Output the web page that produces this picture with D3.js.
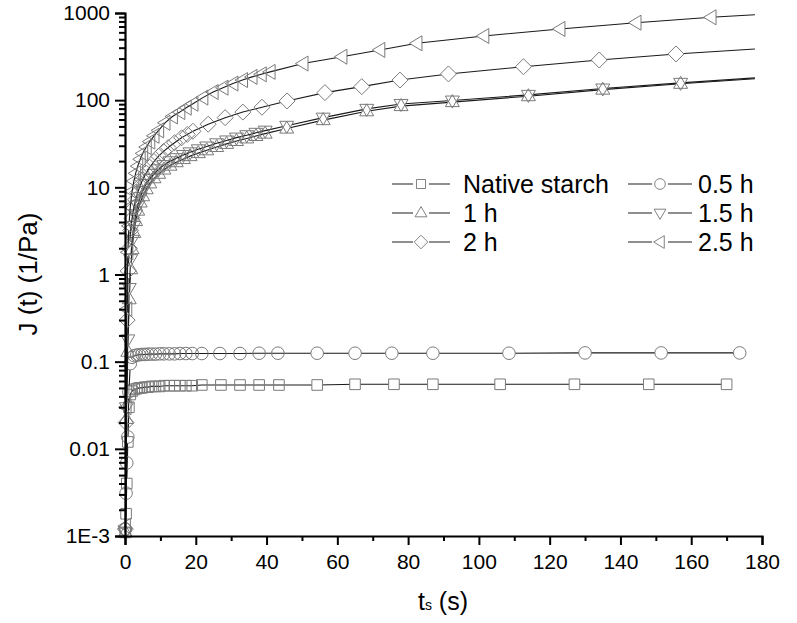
<!DOCTYPE html>
<html>
<head>
<meta charset="utf-8">
<script src="https://cdn.jsdelivr.net/npm/d3@7"></script>
<style>
  body { margin: 0; background: #fff; }
  text { font-family: "Liberation Sans", Arial, sans-serif; fill: #000; }
</style>
</head>
<body>
<div id="chart"></div>
<script>
// creep compliance data
var names = ["Native starch", "0.5 h", "1 h", "1.5 h", "2 h", "2.5 h"];
var shapes = ["square", "circle", "up", "down", "diamond", "left"];

var tNative = [0.1, 0.3, 0.5, 0.8, 1.1, 1.5, 2, 2.6, 3.3, 4, 4.8, 5.6, 6.5, 7.5, 8.6, 9.8, 11, 12.5, 14, 15.5, 17.2, 19, 21.7, 27.1, 32.5, 37.9, 43.5, 54.3, 65, 76, 87, 106, 127, 148, 170];
var jNative = [0.0011, 0.0018, 0.004, 0.012, 0.03, 0.042, 0.046, 0.048, 0.049, 0.05, 0.05, 0.051, 0.051, 0.052, 0.052, 0.052, 0.053, 0.053, 0.053, 0.053, 0.053, 0.053, 0.054, 0.054, 0.054, 0.054, 0.054, 0.054, 0.055, 0.055, 0.055, 0.055, 0.055, 0.055, 0.055];

var t05 = [0.1, 0.3, 0.5, 0.8, 1.1, 1.5, 2, 2.6, 3.3, 4, 4.8, 5.6, 6.5, 7.5, 8.6, 9.8, 11, 12.5, 14, 15.5, 17.2, 19, 21.7, 26.8, 32.5, 37.9, 43.2, 54.3, 65, 75.4, 87, 108.5, 130, 151.5, 173.7];
var j05 = [0.0012, 0.0031, 0.0069, 0.0137, 0.045, 0.095, 0.112, 0.117, 0.119, 0.12, 0.121, 0.121, 0.122, 0.122, 0.122, 0.123, 0.123, 0.123, 0.123, 0.124, 0.124, 0.124, 0.124, 0.124, 0.124, 0.125, 0.125, 0.125, 0.125, 0.125, 0.125, 0.125, 0.126, 0.126, 0.126];

var t1 = [0.1, 0.4, 0.8, 1.2, 1.6, 2, 2.5, 3, 3.6, 4.3, 5, 6, 7, 8.2, 9.5, 11, 12.7, 14.5, 16.5, 18.4, 20.7, 23.1, 25.9, 28.7, 31.5, 34.4, 37, 39.6, 45.7, 56, 68.3, 78, 92.5, 114, 135, 157, 178];
var j1 = [0.0011, 0.022, 0.13, 0.52, 1.15, 1.95, 3.0, 4.1, 5.4, 6.7, 7.9, 9.5, 11.1, 12.7, 14.3, 16, 17.7, 19.4, 21.1, 22.8, 24.7, 26.6, 29, 31.5, 34, 36.4, 38.8, 41.3, 47.2, 59, 74.5, 85.5, 95, 111, 132, 154, 176];

var t15 = [0.1, 0.4, 0.8, 1.2, 1.6, 2, 2.5, 3, 3.6, 4.3, 5, 6, 7, 8.2, 9.5, 11, 12.7, 14.5, 16.5, 18.4, 20.7, 23.1, 25.9, 28.7, 31.5, 34.4, 37, 39.6, 45.7, 56, 68.3, 78, 92.5, 114, 135, 157, 178];
var j15 = [0.0011, 0.03, 0.18, 0.7, 1.5, 2.5, 3.6, 4.9, 6.2, 7.7, 9.1, 10.9, 12.5, 14.3, 16.1, 18, 19.9, 21.6, 23.5, 25.2, 27.3, 29.4, 32, 34.5, 37.2, 39.6, 42.2, 44.7, 50.8, 63, 79.5, 90.5, 99, 115, 136, 158, 180];

var t2 = [0.1, 0.3, 0.6, 0.9, 1.2, 1.6, 2, 2.5, 3, 3.6, 4.3, 5, 6, 7, 8.2, 9.5, 10.9, 12.2, 14, 16, 17.6, 19.2, 23.5, 28.3, 33.3, 38.7, 45.8, 56.5, 66.9, 77.7, 91.4, 112.6, 134, 155.7, 178];
var j2 = [0.0012, 0.02, 0.3, 1.1, 2.0, 3.2, 4.4, 5.8, 7.2, 8.7, 10.5, 12.3, 14.6, 17, 19.8, 22.8, 25.8, 28.6, 32.5, 37, 40.5, 44, 53, 63, 73, 83, 98, 122, 143, 170, 200, 242, 289, 339, 386];

var t25 = [0.1, 0.3, 0.5, 0.8, 1.1, 1.5, 2, 2.5, 3, 3.6, 4.3, 5, 6, 7, 8.2, 9.5, 11.3, 13.4, 15.5, 17.3, 19.2, 22, 24.9, 27.7, 30.5, 33.2, 35.9, 38.5, 41, 50.3, 61.3, 72, 82.5, 101.4, 122.9, 144.4, 165.6, 178];
var j25 = [0.0013, 0.03, 0.4, 1.8, 3.6, 6, 9, 11.8, 14.5, 17.5, 21, 24.5, 29, 33.5, 39, 45, 55, 65, 73, 82, 91, 107, 124, 139, 155, 170, 185, 198, 211, 263, 315, 377, 449, 545, 656, 774, 893, 956];

// last point of these curves has no marker
var lastUnmarked = [false, false, true, true, true, true];

var xTicks = [0, 20, 40, 60, 80, 100, 120, 140, 160, 180];
var yTicks = [1e-3, 0.01, 0.1, 1, 10, 100, 1000];
var yTickLabels = ["1E-3", "0.01", "0.1", "1", "10", "100", "1000"];

var seriesT = [tNative, t05, t1, t15, t2, t25];
var seriesJ = [jNative, j05, j1, j15, j2, j25];

var W = 797, H = 623;
var svg = d3.select("#chart").append("svg")
  .attr("width", W).attr("height", H);

var x = d3.scaleLinear().domain([0, 180]).range([125, 762]);
var y = d3.scaleLog().domain([1e-3, 1000]).range([536, 13]);

// marker outlines
function shapePath(kind) {
  var p = d3.path();
  if (kind == "square") { p.rect(-5.3, -5.3, 10.6, 10.6); }
  else if (kind == "circle") { p.arc(0, 0, 6.3, 0, 2 * Math.PI); }
  else if (kind == "up") { p.moveTo(0, -7.5); p.lineTo(7, 4.5); p.lineTo(-7, 4.5); p.closePath(); }
  else if (kind == "down") { p.moveTo(0, 7.5); p.lineTo(7, -4.5); p.lineTo(-7, -4.5); p.closePath(); }
  else if (kind == "diamond") { p.moveTo(0, -8); p.lineTo(8, 0); p.lineTo(0, 8); p.lineTo(-8, 0); p.closePath(); }
  else if (kind == "left") { p.moveTo(-7.5, 0); p.lineTo(5, -7.5); p.lineTo(5, 7.5); p.closePath(); }
  return p.toString();
}

var line = d3.line().x(d => x(d.t)).y(d => y(d.j));
var defs = svg.append("defs");
var plot = svg.append("g");

seriesT.forEach(function (ts, k) {
  var pts = ts.map((tt, i) => ({ t: tt, j: seriesJ[k][i] }));
  var marked = lastUnmarked[k] ? pts.slice(0, -1) : pts;

  // gap in the line around markers that stand apart
  var gaps = marked.filter(function (d, i) {
    if (i == 0) return false;
    var a = marked[i - 1];
    return Math.hypot(x(d.t) - x(a.t), y(d.j) - y(a.j)) > 22;
  });
  var m = defs.append("mask").attr("id", "gap" + k).attr("maskUnits", "userSpaceOnUse")
    .attr("x", 0).attr("y", 0).attr("width", W).attr("height", H);
  m.append("rect").attr("width", W).attr("height", H).attr("fill", "#fff");
  m.selectAll("path").data(gaps).join("path")
    .attr("d", shapePath(shapes[k]))
    .attr("transform", d => "translate(" + x(d.t) + "," + y(d.j) + ")")
    .attr("fill", "#000");

  plot.append("path")
    .datum(pts)
    .attr("d", line)
    .attr("fill", "none")
    .attr("stroke", "#1a1a1a")
    .attr("stroke-width", 1.1)
    .attr("mask", "url(#gap" + k + ")");

  plot.append("g").selectAll("path").data(marked).join("path")
    .attr("d", shapePath(shapes[k]))
    .attr("transform", d => "translate(" + x(d.t) + "," + y(d.j) + ")")
    .attr("fill", "none")
    .attr("stroke", "#7a7a7a")
    .attr("stroke-width", 1);
});

// axes
var xAxis = svg.append("g").attr("transform", "translate(0,536)")
  .call(d3.axisBottom(x).tickValues(xTicks).tickSize(9).tickPadding(4).tickFormat(d3.format("d")));
svg.append("g").attr("transform", "translate(0,536)")
  .call(d3.axisBottom(x).tickValues(d3.range(10, 180, 20)).tickSize(5).tickFormat(""))
  .select(".domain").remove();

var minor = [];
for (var e = -3; e < 3; e++) for (var m = 2; m <= 9; m++) minor.push(m * Math.pow(10, e));

var yAxis = svg.append("g").attr("transform", "translate(125,0)")
  .call(d3.axisLeft(y).tickValues(yTicks).tickSize(10).tickPadding(5).tickFormat((d, i) => yTickLabels[i]));
svg.append("g").attr("transform", "translate(125,0)")
  .call(d3.axisLeft(y).tickValues(minor).tickSize(6).tickFormat(""))
  .select(".domain").remove();

svg.selectAll(".domain").attr("stroke", "#000").attr("stroke-width", 2.2);
svg.selectAll(".tick line").attr("stroke", "#000").attr("stroke-width", 2);
svg.selectAll(".tick text").style("font-size", "21px").style("font-family", "'Liberation Sans', Arial, sans-serif");
xAxis.selectAll(".tick text").attr("dy", "0.95em");

// axis titles
svg.append("text")
  .attr("transform", "translate(37,274) rotate(-90)")
  .attr("text-anchor", "middle")
  .style("font-size", "26px")
  .text("J (t) (1/Pa)");

var xt = svg.append("text")
  .attr("x", 443).attr("y", 610)
  .attr("text-anchor", "middle")
  .style("font-size", "25px");
xt.append("tspan").text("t");
xt.append("tspan").style("font-size", "14px").text("s");
xt.append("tspan").text(" (s)");

// legend
var legX = [[392, 450, 463], [628, 692, 698]];
var legY = [184, 213, 242];
var leg = svg.append("g");
names.forEach(function (nm, k) {
  var col = k % 2, row = Math.floor(k / 2);
  var lx = legX[col], cy = legY[row];
  var cx = (lx[0] + lx[1]) / 2;
  var g = leg.append("g");
  g.append("line").attr("x1", lx[0]).attr("x2", cx - 8).attr("y1", cy).attr("y2", cy)
    .attr("stroke", "#333").attr("stroke-width", 1.1);
  g.append("line").attr("x1", cx + 8).attr("x2", lx[1]).attr("y1", cy).attr("y2", cy)
    .attr("stroke", "#333").attr("stroke-width", 1.1);
  g.append("path").attr("d", shapePath(shapes[k]))
    .attr("transform", "translate(" + cx + "," + cy + ") scale(0.85)")
    .attr("fill", "none").attr("stroke", "#7a7a7a").attr("stroke-width", 1.1);
  g.append("text").attr("x", lx[2]).attr("y", cy + 9)
    .style("font-size", "25px").text(nm);
});
</script>
</body>
</html>
